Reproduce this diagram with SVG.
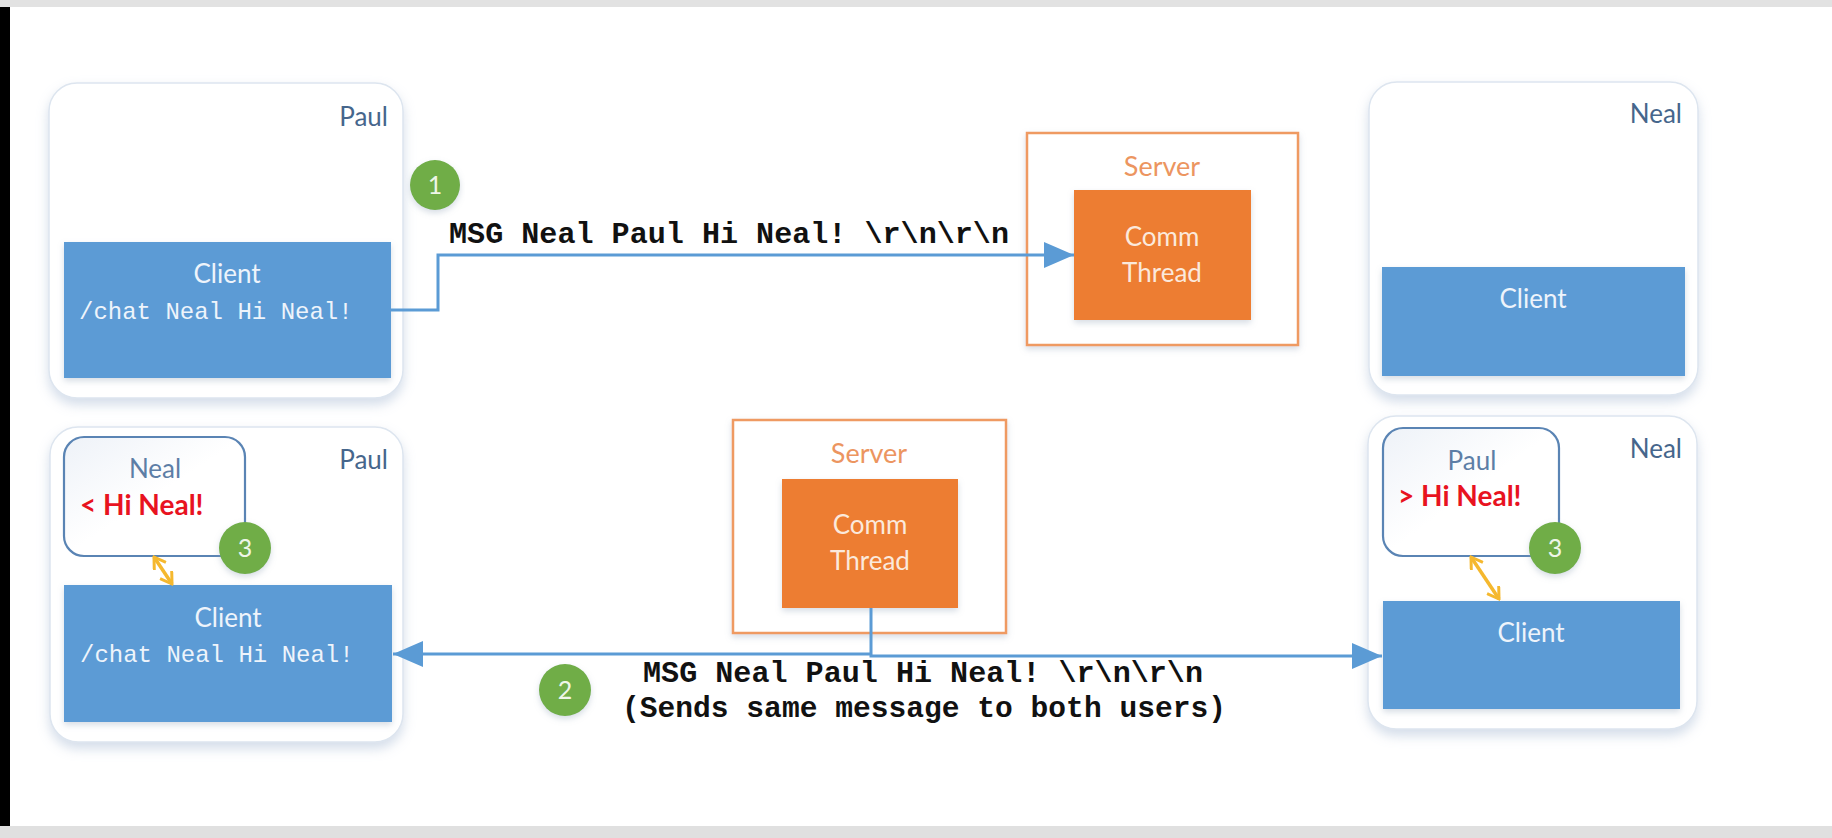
<svg xmlns="http://www.w3.org/2000/svg" width="1832" height="838" viewBox="0 0 1832 838">
<defs>
<style>
.card{fill:#ffffff;stroke:#dde5ef;stroke-width:1.5;filter:url(#sh)}
.client{fill:#5b9bd5;filter:url(#sh2)}
.comm{fill:#ed7d31;filter:url(#sh2)}
.server{fill:#ffffff;stroke:#ef9a62;stroke-width:2.5;filter:url(#sh2)}
.inner{fill:url(#ig);stroke:#5a84b4;stroke-width:2.2}
.badge{fill:#70ad47;filter:url(#sh2)}
.lbl{font-family:Lato,"Open Sans","Liberation Sans",sans-serif;font-size:26px;fill:#46668c}
.ilbl{font-family:Lato,"Open Sans","Liberation Sans",sans-serif;font-size:26px;fill:#5d7ea6}
.ctxt{font-family:Lato,"Open Sans","Liberation Sans",sans-serif;font-size:26px;fill:#eef4fb}
.stxt{font-family:Lato,"Open Sans","Liberation Sans",sans-serif;font-size:27px;fill:#ec9560}
.otxt{font-family:Lato,"Open Sans","Liberation Sans",sans-serif;font-size:26px;fill:#fbe9dc}
.num{font-family:Lato,"Open Sans","Liberation Sans",sans-serif;font-size:25px;fill:#eef6e8}
.red{font-family:Lato,"Open Sans","Liberation Sans",sans-serif;font-size:28px;font-weight:bold;fill:#e8131f}
.mono{font-family:"Liberation Mono","Courier New",monospace;font-size:24px;fill:#eef4fb}
.msg{font-family:"Liberation Mono","Courier New",monospace;font-size:29px;font-weight:bold;fill:#111111}
.conn{fill:none;stroke:#5b9bd5;stroke-width:3}
.yel{fill:none;stroke:#f5b82e;stroke-width:3.5}
</style>
<linearGradient id="ig" x1="0" y1="0" x2="1" y2="1">
<stop offset="0" stop-color="#eef2f8"/>
<stop offset="0.5" stop-color="#ffffff"/>
<stop offset="1" stop-color="#ffffff"/>
</linearGradient>
<filter id="sh" x="-10%" y="-10%" width="120%" height="130%">
<feDropShadow dx="0" dy="6" stdDeviation="6" flood-color="#9fb4cf" flood-opacity="0.45"/>
</filter>
<filter id="sh2" x="-10%" y="-10%" width="120%" height="130%">
<feDropShadow dx="0" dy="3" stdDeviation="3" flood-color="#8a9cb4" flood-opacity="0.35"/>
</filter>
<marker id="ah" viewBox="0 0 30 26" refX="30" refY="13" markerWidth="30" markerHeight="26" markerUnits="userSpaceOnUse" orient="auto">
<path d="M0,0 L30,13 L0,26 z" fill="#5b9bd5"/>
</marker>
<marker id="yh" viewBox="0 0 14 16" refX="12" refY="8" markerWidth="14" markerHeight="16" markerUnits="userSpaceOnUse" orient="auto-start-reverse">
<path d="M1,1 L12,8 L1,15" fill="none" stroke="#f5b82e" stroke-width="3"/>
</marker>
</defs>

<rect x="0" y="0" width="1832" height="838" fill="#ffffff"/>
<rect x="0" y="0" width="1832" height="7" fill="#e2e2e2"/>
<rect x="0" y="7" width="10" height="819" fill="#000000"/>
<rect x="0" y="826" width="1832" height="12" fill="#e0e0e0"/>

<g id="paul-top">
<rect class="card" x="49" y="83" width="354" height="315" rx="28"/>
<text class="lbl" x="388" y="126" text-anchor="end">Paul</text>
<rect class="client" x="64" y="242" width="327" height="136"/>
<text class="ctxt" x="227" y="283" text-anchor="middle">Client</text>
<text class="mono" x="79" y="319">/chat Neal Hi Neal!</text>
</g>

<g id="badge-1">
<circle class="badge" cx="435" cy="185" r="25"/>
<text class="num" x="435" y="194" text-anchor="middle">1</text>
</g>

<g id="server-top">
<rect class="server" x="1027" y="133" width="271" height="212"/>
<text class="stxt" x="1162" y="176" text-anchor="middle">Server</text>
<rect class="comm" x="1074" y="190" width="177" height="130"/>
<text class="otxt" x="1162" y="246" text-anchor="middle">Comm</text>
<text class="otxt" x="1162" y="282" text-anchor="middle">Thread</text>
</g>

<g id="neal-top">
<rect class="card" x="1369" y="82" width="329" height="313" rx="28"/>
<text class="lbl" x="1682" y="123" text-anchor="end">Neal</text>
<rect class="client" x="1382" y="267" width="303" height="109"/>
<text class="ctxt" x="1533" y="308" text-anchor="middle">Client</text>
</g>

<g id="paul-bottom">
<rect class="card" x="50" y="427" width="353" height="315" rx="28"/>
<text class="lbl" x="388" y="469" text-anchor="end">Paul</text>
<rect class="inner" x="64" y="437" width="181" height="119" rx="20"/>
<text class="ilbl" x="155" y="478" text-anchor="middle">Neal</text>
<text class="red" x="80" y="515">&lt; Hi Neal!</text>
<rect class="client" x="64" y="585" width="328" height="137"/>
<text class="ctxt" x="228" y="627" text-anchor="middle">Client</text>
<text class="mono" x="80" y="662">/chat Neal Hi Neal!</text>
</g>

<g id="badge-3-left">
<circle class="badge" cx="245" cy="548" r="26"/>
<text class="num" x="245" y="557" text-anchor="middle">3</text>
</g>

<g id="server-bottom">
<rect class="server" x="733" y="420" width="273" height="213"/>
<text class="stxt" x="869" y="463" text-anchor="middle">Server</text>
<rect class="comm" x="782" y="479" width="176" height="129"/>
<text class="otxt" x="870" y="534" text-anchor="middle">Comm</text>
<text class="otxt" x="870" y="570" text-anchor="middle">Thread</text>
</g>

<g id="neal-bottom">
<rect class="card" x="1368" y="416" width="329" height="313" rx="28"/>
<text class="lbl" x="1682" y="458" text-anchor="end">Neal</text>
<rect class="inner" x="1383" y="428" width="176" height="128" rx="20"/>
<text class="ilbl" x="1472" y="470" text-anchor="middle">Paul</text>
<text class="red" x="1398" y="506">&gt; Hi Neal!</text>
<rect class="client" x="1383" y="601" width="297" height="108"/>
<text class="ctxt" x="1531" y="642" text-anchor="middle">Client</text>
</g>

<g id="badge-3-right">
<circle class="badge" cx="1555" cy="548" r="26"/>
<text class="num" x="1555" y="557" text-anchor="middle">3</text>
</g>

<g id="badge-2">
<circle class="badge" cx="565" cy="690" r="26"/>
<text class="num" x="565" y="699" text-anchor="middle">2</text>
</g>

<g id="connectors">
<path class="conn" d="M391,310 H438 V255 H1074" marker-end="url(#ah)"/>
<path class="conn" d="M871,608 V656 H1382" marker-end="url(#ah)"/>
<path class="conn" d="M871,654 H393" marker-end="url(#ah)"/>
<line class="yel" x1="154" y1="557" x2="172" y2="584" marker-start="url(#yh)" marker-end="url(#yh)"/>
<line class="yel" x1="1471" y1="557" x2="1499" y2="599" marker-start="url(#yh)" marker-end="url(#yh)"/>
<text class="msg" x="449" y="243" textLength="560" lengthAdjust="spacingAndGlyphs">MSG Neal Paul Hi Neal! \r\n\r\n</text>
<text class="msg" x="643" y="682" textLength="560" lengthAdjust="spacingAndGlyphs">MSG Neal Paul Hi Neal! \r\n\r\n</text>
<text class="msg" x="622" y="717" textLength="604" lengthAdjust="spacingAndGlyphs">(Sends same message to both users)</text>
</g>
</svg>
